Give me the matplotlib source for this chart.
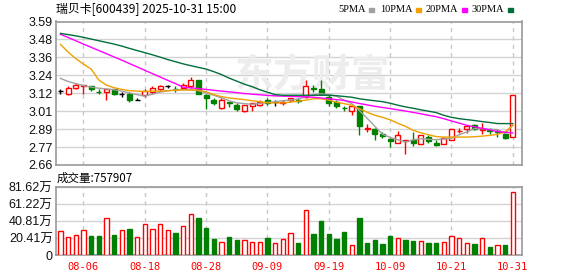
import matplotlib
matplotlib.use('Agg')
from matplotlib import pyplot as plt
from matplotlib.patches import Rectangle
import numpy as np

# daily K-line of 瑞贝卡 600439, 2025-08-01 .. 2025-10-31
opens = [3.14, 3.12, 3.16, 3.17, 3.17, 3.135, 3.13, 3.15, 3.12, 3.12,
         3.08, 3.11, 3.13, 3.15, 3.17, 3.155, 3.16, 3.17, 3.21, 3.11,
         3.08, 3.03, 3.065, 3.05, 3.01, 3.04, 3.05, 3.08, 3.065, 3.06,
         3.08, 3.08, 3.10, 3.16, 3.15, 3.10, 3.07, 3.03, 3.01, 3.04,
         2.89, 2.89, 2.86, 2.825, 2.80, 2.81, 2.82, 2.79, 2.84, 2.80,
         2.79, 2.82, 2.875, 2.89, 2.915, 2.885, 2.885, 2.88, 2.86, 2.84]
highs = [3.15, 3.17, 3.19, 3.18, 3.17, 3.15, 3.15, 3.15, 3.13, 3.13,
         3.09, 3.15, 3.17, 3.18, 3.18, 3.17, 3.19, 3.23, 3.21, 3.12,
         3.09, 3.09, 3.07, 3.06, 3.05, 3.06, 3.08, 3.09, 3.08, 3.08,
         3.09, 3.09, 3.21, 3.18, 3.21, 3.11, 3.08, 3.04, 3.05, 3.04,
         2.92, 2.90, 2.87, 2.83, 2.88, 2.82, 2.87, 2.85, 2.85, 2.82,
         2.84, 2.89, 2.90, 2.91, 2.92, 2.93, 2.90, 2.89, 2.87, 3.11]
lows = [3.12, 3.11, 3.15, 3.12, 3.14, 3.12, 3.08, 3.11, 3.10, 3.07,
        3.08, 3.10, 3.12, 3.14, 3.16, 3.13, 3.15, 3.16, 3.12, 3.02,
        3.05, 3.02, 3.035, 3.01, 3.00, 3.01, 3.04, 3.05, 3.04, 3.05,
        3.07, 3.06, 3.09, 3.13, 3.12, 3.04, 3.03, 3.01, 2.98, 2.85,
        2.87, 2.82, 2.83, 2.77, 2.80, 2.73, 2.78, 2.79, 2.80, 2.78,
        2.79, 2.82, 2.865, 2.865, 2.885, 2.86, 2.86, 2.84, 2.825, 2.84]
closes = [3.14, 3.16, 3.18, 3.18, 3.15, 3.13, 3.15, 3.12, 3.12, 3.08,
          3.08, 3.14, 3.16, 3.17, 3.17, 3.15, 3.18, 3.21, 3.12, 3.09,
          3.06, 3.08, 3.06, 3.02, 3.05, 3.06, 3.07, 3.06, 3.065, 3.07,
          3.09, 3.075, 3.17, 3.155, 3.12, 3.06, 3.04, 3.025, 3.04, 2.91,
          2.895, 2.86, 2.845, 2.81, 2.85, 2.82, 2.80, 2.85, 2.81, 2.785,
          2.835, 2.89, 2.88, 2.91, 2.89, 2.89, 2.88, 2.87, 2.83, 3.11]
# volume in 万 (10k lots)
volumes = [28.8, 21.6, 24.0, 30.0, 23.2, 23.2, 44.4, 24.0, 30.0, 31.2,
           21.6, 37.2, 31.2, 37.2, 30.0, 26.4, 34.8, 49.2, 44.4, 32.4,
           19.2, 15.6, 21.6, 18.0, 18.0, 15.6, 15.6, 20.4, 14.4, 19.2,
           26.4, 14.4, 54.0, 25.2, 40.8, 25.2, 19.2, 27.6, 12.0, 44.4,
           14.4, 18.0, 13.2, 22.8, 20.4, 18.0, 16.8, 16.8, 14.4, 14.4,
           15.6, 22.8, 20.4, 14.4, 13.2, 20.4, 9.6, 12.0, 12.0, 75.79]
vol_up = [1, 1, 1, 1, 0, 0, 1, 0, 1, 0, 1, 1, 1, 1, 1, 0, 1, 1, 0, 0,
          0, 1, 0, 0, 1, 1, 1, 0, 1, 1, 1, 0, 1, 0, 0, 0, 0, 0, 1, 0,
          0, 0, 0, 0, 1, 0, 0, 1, 0, 0, 1, 1, 1, 1, 0, 1, 0, 1, 0, 1]

# moving averages as drawn on the chart
ma5 = [3.221, 3.201, 3.187, 3.174, 3.164, 3.157, 3.152, 3.147, 3.138, 3.126,
       3.115, 3.105, 3.118, 3.131, 3.141, 3.144, 3.147, 3.147, 3.141, 3.126,
       3.111, 3.094, 3.075, 3.061, 3.056, 3.052, 3.058, 3.064, 3.069, 3.075,
       3.079, 3.088, 3.100, 3.115, 3.121, 3.115, 3.105, 3.079, 3.056, 3.010,
       2.961, 2.908, 2.856, 2.836, 2.820, 2.806, 2.820, 2.827, 2.823, 2.821,
       2.825, 2.830, 2.853, 2.871, 2.893, 2.892, 2.889, 2.887, 2.861, 2.915]
ma10 = [3.443, 3.393, 3.350, 3.314, 3.282, 3.210, 3.177, 3.160, 3.149, 3.141,
        3.138, 3.136, 3.138, 3.138, 3.140, 3.144, 3.145, 3.145, 3.144, 3.134,
        3.115, 3.102, 3.093, 3.088, 3.082, 3.075, 3.069, 3.062, 3.061, 3.061,
        3.066, 3.072, 3.079, 3.088, 3.088, 3.079, 3.066, 3.056, 3.046, 3.023,
        3.000, 2.980, 2.967, 2.951, 2.928, 2.908, 2.882, 2.866, 2.853, 2.841,
        2.838, 2.838, 2.838, 2.838, 2.840, 2.844, 2.849, 2.856, 2.872, 2.915]
ma20 = [3.509, 3.488, 3.467, 3.445, 3.424, 3.403, 3.382, 3.361, 3.340, 3.318,
        3.296, 3.274, 3.252, 3.230, 3.208, 3.187, 3.164, 3.159, 3.155, 3.149,
        3.143, 3.138, 3.133, 3.128, 3.122, 3.118, 3.114, 3.110, 3.107, 3.105,
        3.104, 3.102, 3.101, 3.098, 3.093, 3.088, 3.083, 3.077, 3.067, 3.057,
        3.048, 3.039, 3.031, 3.024, 3.016, 3.008, 2.999, 2.990, 2.980, 2.971,
        2.958, 2.943, 2.929, 2.915, 2.905, 2.895, 2.885, 2.874, 2.869, 2.865]
ma30 = [3.515, 3.507, 3.499, 3.489, 3.478, 3.467, 3.456, 3.445, 3.432, 3.417,
        3.403, 3.389, 3.375, 3.360, 3.344, 3.330, 3.316, 3.304, 3.293, 3.282,
        3.265, 3.246, 3.223, 3.203, 3.183, 3.167, 3.147, 3.131, 3.115, 3.111,
        3.111, 3.111, 3.111, 3.111, 3.111, 3.111, 3.108, 3.103, 3.098, 3.088,
        3.081, 3.075, 3.069, 3.059, 3.046, 3.035, 3.026, 3.016, 3.007, 2.998,
        2.980, 2.967, 2.958, 2.952, 2.946, 2.939, 2.933, 2.926, 2.926, 2.926]

date_pos = [3, 11, 19, 27, 35, 43, 51, 59]
date_labels = ['08-06', '08-18', '08-28', '09-09', '09-19', '10-09', '10-21', '10-31']
price_lo, price_hi = 2.6555, 3.5926
vol_ticks = [0, 20.41, 40.81, 61.22, 81.62]
vol_labels = ['0', '20.41万', '40.81万', '61.22万', '81.62万']

plt.rcParams['font.family'] = ['Liberation Sans', 'Noto Sans CJK SC']
RED = '#ff0000'
GREEN = '#008000'
GRID = '#d3d3d3'
FRAME = '#9a9a9a'
W, H = 578, 276


def fx(x):
    return x / W


def fy(y):
    return 1 - y / H


fig = plt.figure(figsize=(W / 100, H / 100), dpi=100)
ax = fig.add_axes([fx(55.5), fy(165), fx(522) - fx(55.5), fy(21.5) - fy(165)])
axv = fig.add_axes([fx(55.5), fy(255), fx(522) - fx(55.5), fy(187) - fy(255)])

o = np.array(opens)
c = np.array(closes)
n = len(o)
x = np.arange(n)
xlim = (-0.65, 60.2)

# --- price panel ---
ticks = np.linspace(price_lo, price_hi, 9)
for t in ticks:
    ax.axhline(t, color=GRID, lw=1, zorder=0)
for p in date_pos:
    ax.axvline(p, color='#c8c8c8', lw=1, ls=(0, (3, 3)), zorder=0)

# faint site watermark
ax.text(0.55, 0.62, '东方财富', fontsize=28, color='#ededed', fontweight='bold',
        fontstyle='italic', family=['Noto Sans CJK SC'], ha='center', va='center',
        transform=ax.transAxes, zorder=1)

cols = []
for oi, ci in zip(o, c):
    if ci > oi:
        cols.append(RED)
    elif ci < oi:
        cols.append(GREEN)
    else:
        cols.append('black')
faces = ['white' if col == RED else col for col in cols]

ax.vlines(x, lows, highs, colors=cols, lw=1, zorder=3)
body_lo = np.minimum(o, c)
body_h = np.maximum(np.abs(c - o), 0.0005)
ax.bar(x, body_h, bottom=body_lo, width=0.62, color=faces, edgecolor=cols,
       linewidth=1, zorder=4)

ax.plot(x, ma5, color='#a0a0a0', lw=1, zorder=5)
ax.plot(x, ma10, color='#f0a000', lw=1, zorder=5)
ax.plot(x, ma20, color='#ff00ff', lw=1, zorder=5)
ax.plot(x, ma30, color='#006f3c', lw=1, zorder=5)

ax.set_xlim(*xlim)
ax.set_ylim(price_lo, price_hi)
ax.set_yticks(ticks)
ax.set_yticklabels(['%.2f' % t for t in ticks])
ax.set_xticks([])
ax.tick_params(axis='y', length=0, pad=2, labelsize=9, labelcolor='#111111')
for s in ax.spines.values():
    s.set_color(FRAME)
    s.set_linewidth(1.2)

# --- volume panel ---
for t in vol_ticks:
    axv.axhline(t, color=GRID, lw=1, zorder=0)
for p in date_pos:
    axv.axvline(p, color='#c8c8c8', lw=1, ls=(0, (3, 3)), zorder=0)
vcols = [RED if u else GREEN for u in vol_up]
vfaces = ['white' if u else GREEN for u in vol_up]
axv.bar(x, volumes, width=0.6, color=vfaces, edgecolor=vcols, linewidth=1, zorder=3)
axv.set_xlim(*xlim)
axv.set_ylim(0, vol_ticks[-1])
axv.set_yticks(vol_ticks)
axv.set_yticklabels(vol_labels)
axv.set_xticks(date_pos)
axv.set_xticklabels(date_labels, family='DejaVu Sans Mono', fontsize=7.5, color=RED)
axv.tick_params(axis='y', length=0, pad=2, labelsize=9, labelcolor='#111111')
axv.tick_params(axis='x', length=0, pad=5)
for s in axv.spines.values():
    s.set_color(FRAME)
    s.set_linewidth(1.2)

# --- header texts ---
fig.text(fx(56), fy(9), '瑞贝卡[600439] 2025-10-31 15:00', fontsize=8.6,
         family=['Noto Sans CJK SC', 'DejaVu Sans'], va='center', ha='left')
fig.text(fx(57), fy(178), '成交量:757907', fontsize=8.3,
         family=['Noto Sans CJK SC', 'DejaVu Sans'], va='center', ha='left')

legend = [('5PMA', 338, '#a0a0a0'), ('10PMA', 380, '#f0a000'),
          ('20PMA', 426, '#ff00ff'), ('30PMA', 472, '#006f3c')]
for label, lx, col in legend:
    t = fig.text(fx(lx), fy(9.5), label, fontsize=7.5, family='Liberation Serif',
                 va='center', ha='left')
    fig.canvas.draw()
    bb = t.get_window_extent()
    sx = bb.x1 + 3
    fig.patches.append(Rectangle((sx / W, fy(11.5)), 5 / W, 4 / H, color=col,
                                 transform=fig.transFigure, figure=fig))

fig.savefig('out.png', dpi=100)
